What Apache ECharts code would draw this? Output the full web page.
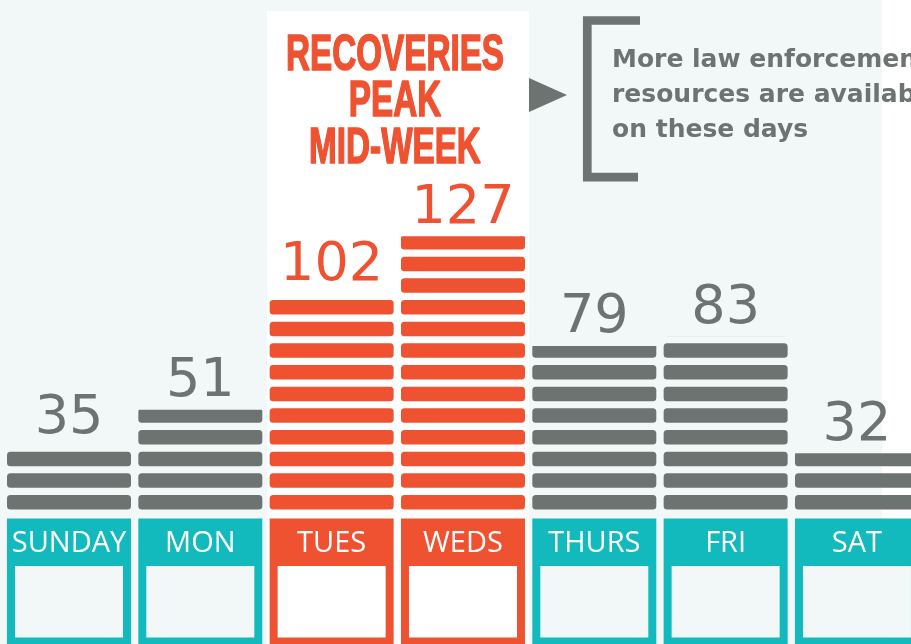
<!DOCTYPE html>
<html>
<head>
<meta charset="utf-8">
<title>Recoveries by day</title>
<script src="https://cdn.jsdelivr.net/npm/echarts@6/dist/echarts.min.js"></script>
<style>
html,body{margin:0;padding:0;background:#fff;}
#weekChart{width:911px;height:644px;}
</style>
</head>
<body>
<div id="weekChart"></div>
<script>
// data
var days = ['SUNDAY', 'MON', 'TUES', 'WEDS', 'THURS', 'FRI', 'SAT'];
var recoveries = [35, 51, 102, 127, 79, 83, 32];
var peakDays = ['TUES', 'WEDS'];
var headline = ['RECOVERIES', 'PEAK', 'MID-WEEK'];
var noteLines = ['More law enforcement', 'resources are available', 'on these days'];

var GREY = '#6d7371';
var ORANGE = '#ee5231';
var TEAL = '#13babd';
var PALE = '#f2f8f8';

// one stripe, 124 x 14.5 with small rounded corners
var STRIPE = 'path://M3.5,0H120.5A3.5,3.5,0,0,1,124,3.5V11A3.5,3.5,0,0,1,120.5,14.5H3.5A3.5,3.5,0,0,1,0,11V3.5A3.5,3.5,0,0,1,3.5,0Z';

var weekChart = {
	init: function () {
		var myChart = echarts.init(document.getElementById('weekChart'));
		myChart.setOption(weekChart.buildOption());
	},
	isPeak: function (i) {
		return peakDays.indexOf(days[i]) != -1;
	},
	buildOption: function () {
		var barData = [];
		var labelData = [];
		for (var i = 0; i < days.length; i++) {
			var c = weekChart.isPeak(i) ? ORANGE : GREY;
			barData.push({ value: recoveries[i], itemStyle: { color: c } });
			labelData.push({ value: [i, recoveries[i]], label: { color: c } });
		}
		var graphics = [
			{ type: 'rect', z: -10, silent: true, shape: { x: 0, y: 0, width: 882, height: 644 }, style: { fill: PALE } },
			{ type: 'rect', z: -9, silent: true, shape: { x: 267, y: 11, width: 262, height: 633 }, style: { fill: '#fff' } },
			{ type: 'polygon', shape: { points: [[529, 78], [567, 95], [529, 112]] }, style: { fill: GREY } },
			{ type: 'polyline', shape: { points: [[640, 20.5], [587.3, 20.5], [587.3, 177.2], [638, 177.2]] },
				style: { stroke: GREY, lineWidth: 8.7, fill: null, lineJoin: 'miter' } }
		];
		// headline, squeezed to look condensed
		for (var h = 0; h < headline.length; h++) {
			graphics.push({
				type: 'text', x: 395, y: 56 + h * 46.7, scaleX: 0.665,
				style: { text: headline[h], fill: ORANGE, stroke: ORANGE, lineWidth: 1.6,
					align: 'center', verticalAlign: 'middle',
					font: 'bold 50px "Liberation Sans Narrow", "Liberation Sans", sans-serif' }
			});
		}
		// note beside the bracket
		graphics.push({
			type: 'text', x: 612, y: 95,
			style: { text: noteLines.join('\n'), fill: GREY, align: 'left', verticalAlign: 'middle', lineHeight: 35,
				font: 'bold 25px "DejaVu Sans", sans-serif' }
		});

		return {
			animation: false,
			backgroundColor: '#fff',
			grid: { left: 3.33, width: 919.3, top: 69.7, bottom: 117.7, outerBoundsMode: 'none' },
			xAxis: { type: 'category', data: days, show: false },
			yAxis: { type: 'value', min: 0, max: 200, show: false },
			graphic: graphics,
			series: [
				{
					// striped stacks
					type: 'pictorialBar',
					data: barData,
					symbol: STRIPE,
					symbolSize: [124, 14.5],
					symbolRepeat: 14,
					symbolClip: true,
					symbolBoundingData: 129.74,
					symbolOffset: [0, -16.8],
					z: 3
				},
				{
					// value numbers
					type: 'scatter',
					data: labelData,
					symbolSize: 1,
					itemStyle: { color: 'transparent', opacity: 1 },
					label: {
						show: true, position: 'top', distance: 0, opacity: 1,
						fontSize: 54, fontFamily: 'DejaVu Sans',
						formatter: function (p) { return p.value[1]; }
					},
					z: 4
				},
				{
					// day tiles under the stacks
					type: 'custom',
					data: days.map(function (d, i) { return [i]; }),
					renderItem: function (params, api) {
						var i = api.value(0);
						var p = api.coord([i, 0]);
						var peak = weekChart.isPeak(i);
						var left = p[0] - 62;
						var top = p[1] - 7.8;
						return {
							type: 'group',
							children: [
								{ type: 'rect', shape: { x: left, y: top, width: 124, height: 140 }, style: { fill: peak ? ORANGE : TEAL } },
								{ type: 'rect', shape: { x: left + 8, y: top + 47.5, width: 108, height: 71.5 }, style: { fill: peak ? '#fff' : PALE } },
								{ type: 'text', style: { text: days[i], x: p[0], y: top + 25, align: 'center', verticalAlign: 'middle',
									fill: '#fff', font: '500 29px "Open Sans", sans-serif' } }
							]
						};
					}
				}
			]
		};
	}
};

weekChart.init();
</script>
</body>
</html>
